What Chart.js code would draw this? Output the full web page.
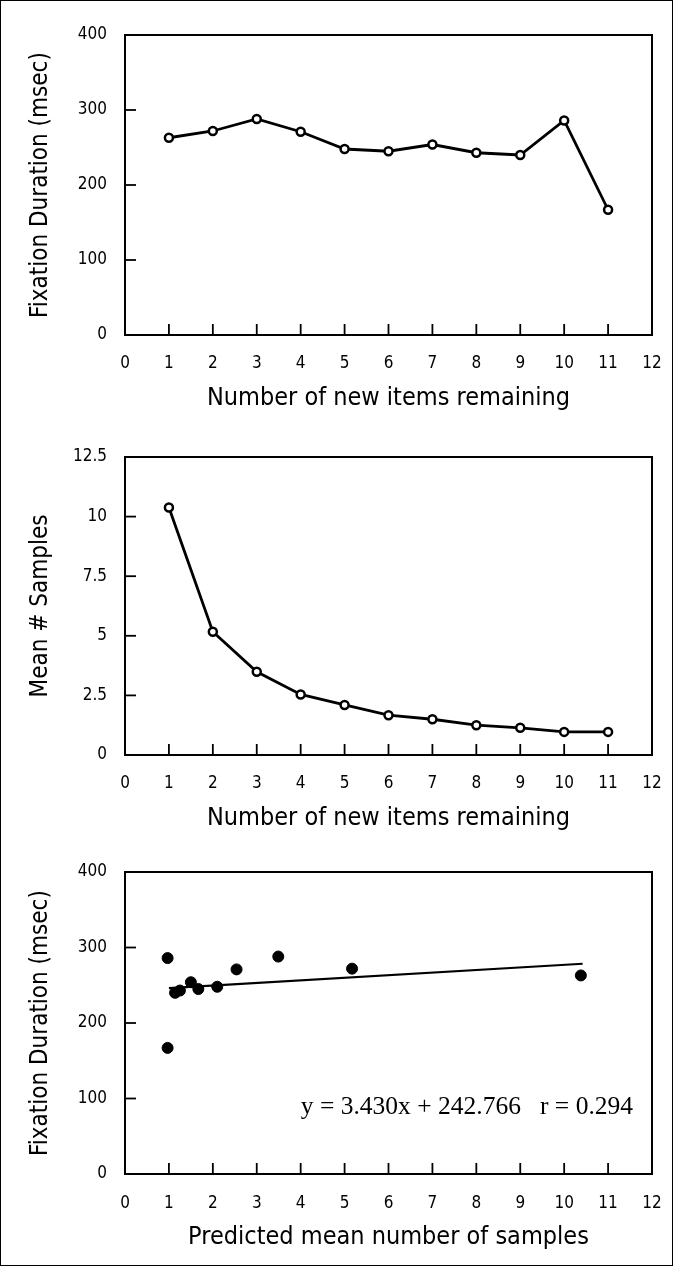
<!DOCTYPE html>
<html>
<head>
<meta charset="utf-8">
<script src="https://cdn.jsdelivr.net/npm/chart.js@4/dist/chart.umd.min.js"></script>
<style>
  html, body { margin: 0; padding: 0; background: #fff; }
  #page {
    position: relative;
    width: 673px;
    height: 1266px;
    box-sizing: border-box;
    border: 1px solid #000;
    overflow: hidden;
  }
  .panel { position: absolute; left: -1px; width: 673px; }
  #p1 { top: -1px; height: 420px; }
  #p2 { top: 419px; height: 420px; }
  #p3 { top: 839px; height: 427px; }
</style>
</head>
<body>
<div id="page">
  <div class="panel" id="p1"><canvas id="durationChart"></canvas></div>
  <div class="panel" id="p2"><canvas id="samplesChart"></canvas></div>
  <div class="panel" id="p3"><canvas id="scatterChart"></canvas></div>
</div>
<script>
// number of new items remaining (x of the first two panels)
const itemsRemaining = [1, 2, 3, 4, 5, 6, 7, 8, 9, 10, 11];
// fixation duration in msec for each item count
const fixationDuration = [263, 272, 288, 271, 248, 245, 254, 243, 240, 286, 167];
// predicted mean number of samples for each item count
const meanSamples = [10.38, 5.17, 3.49, 2.54, 2.1, 1.67, 1.5, 1.25, 1.14, 0.97, 0.97];

const xTicks = [0, 1, 2, 3, 4, 5, 6, 7, 8, 9, 10, 11, 12];
const durationTicks = [0, 100, 200, 300, 400];
const samplesTicks = [0, 2.5, 5, 7.5, 10, 12.5];

// regression reported on the third panel
const fitSlope = 3.430;
const fitIntercept = 242.766;
const fitRange = [1.0, 10.42];
const fitLabel = 'y = 3.430x + 242.766   r = 0.294';

const sansFont = "'DejaVu Sans Condensed', 'Liberation Sans Narrow', 'DejaVu Sans', sans-serif";
Chart.defaults.font.family = sansFont;
Chart.defaults.color = '#000';
Chart.defaults.animation = false;

// box frame + inward tick marks + optional note
const framePlugin = {
    id: 'frame',
    afterDatasetsDraw(chart) {
        const { ctx, chartArea: a, scales } = chart;
        ctx.save();
        ctx.strokeStyle = '#000';
        ctx.lineWidth = 2;
        ctx.strokeRect(a.left, a.top, a.right - a.left, a.bottom - a.top);
        ctx.lineWidth = 1.8;
        const tickLen = 11;
        scales.x.ticks.forEach(t => {
            if (t.value <= scales.x.min || t.value >= scales.x.max) return;
            const px = scales.x.getPixelForValue(t.value);
            ctx.beginPath();
            ctx.moveTo(px, a.bottom);
            ctx.lineTo(px, a.bottom - tickLen);
            ctx.stroke();
        });
        scales.y.ticks.forEach(t => {
            if (t.value <= scales.y.min || t.value >= scales.y.max) return;
            const py = scales.y.getPixelForValue(t.value);
            ctx.beginPath();
            ctx.moveTo(a.left, py);
            ctx.lineTo(a.left + tickLen, py);
            ctx.stroke();
        });
        const note = chart.options.plugins.frame && chart.options.plugins.frame.note;
        if (note) {
            ctx.font = "25.5px 'Liberation Serif', serif";
            ctx.fillStyle = '#000';
            ctx.textAlign = 'right';
            ctx.textBaseline = 'middle';
            ctx.fillText(note.text, a.right - 19, scales.y.getPixelForValue(note.y));
        }
        ctx.restore();
    }
};

function axisX(title, height, gap) {
    return {
        type: 'linear',
        min: 0,
        max: 12,
        afterBuildTicks: s => { s.ticks = xTicks.map(v => ({ value: v })); },
        grid: { display: false, drawTicks: true, tickLength: gap },
        border: { display: false },
        ticks: { padding: 0, font: { size: 17 }, maxRotation: 0, autoSkip: false },
        title: { display: true, text: title, font: { size: 25 }, padding: { top: 0, bottom: height - 78 } },
        afterFit: s => { s.height = height; }
    };
}

function axisY(title, tickList) {
    return {
        type: 'linear',
        min: tickList[0],
        max: tickList[tickList.length - 1],
        afterBuildTicks: s => { s.ticks = tickList.map(v => ({ value: v })); },
        grid: { display: false, drawTicks: false },
        border: { display: false },
        ticks: { padding: 18, font: { size: 17 }, autoSkip: false, callback: v => String(v) },
        title: { display: true, text: title, font: { size: 24 }, padding: { top: 26, bottom: 0 } },
        afterFit: s => { s.width = 125; }
    };
}

const commonPlugins = { legend: { display: false }, tooltip: { enabled: false } };

new Chart(document.getElementById('durationChart'), {
    type: 'line',
    data: {
        datasets: [{
            data: itemsRemaining.map((x, i) => ({ x: x, y: fixationDuration[i] })),
            borderColor: '#000',
            borderWidth: 2.8,
            pointRadius: 4,
            pointBorderWidth: 2.5,
            pointBackgroundColor: '#fff',
            pointBorderColor: '#000',
            tension: 0
        }]
    },
    options: {
        responsive: true,
        maintainAspectRatio: false,
        layout: { padding: { top: 35, right: 21, left: 0, bottom: 0 } },
        scales: {
            x: axisX('Number of new items remaining', 85, 18),
            y: axisY('Fixation Duration (msec)', durationTicks)
        },
        plugins: commonPlugins
    },
    plugins: [framePlugin]
});

new Chart(document.getElementById('samplesChart'), {
    type: 'line',
    data: {
        datasets: [{
            data: itemsRemaining.map((x, i) => ({ x: x, y: meanSamples[i] })),
            borderColor: '#000',
            borderWidth: 2.8,
            pointRadius: 4,
            pointBorderWidth: 2.5,
            pointBackgroundColor: '#fff',
            pointBorderColor: '#000',
            tension: 0
        }]
    },
    options: {
        responsive: true,
        maintainAspectRatio: false,
        layout: { padding: { top: 37, right: 21, left: 0, bottom: 0 } },
        scales: {
            x: axisX('Number of new items remaining', 85, 18),
            y: axisY('Mean # Samples', samplesTicks)
        },
        plugins: commonPlugins
    },
    plugins: [framePlugin]
});

new Chart(document.getElementById('scatterChart'), {
    type: 'scatter',
    data: {
        datasets: [{
            data: meanSamples.map((x, i) => ({ x: x, y: fixationDuration[i] })),
            pointRadius: 5.5,
            pointBackgroundColor: '#000',
            pointBorderColor: '#000',
            showLine: false
        }, {
            type: 'line',
            data: fitRange.map(x => ({ x: x, y: fitSlope * x + fitIntercept })),
            borderColor: '#000',
            borderWidth: 2.2,
            pointRadius: 0
        }]
    },
    options: {
        responsive: true,
        maintainAspectRatio: false,
        layout: { padding: { top: 32, right: 21, left: 0, bottom: 0 } },
        scales: {
            x: axisX('Predicted mean number of samples', 93, 19),
            y: axisY('Fixation Duration (msec)', durationTicks)
        },
        plugins: Object.assign({ frame: { note: { text: fitLabel, y: 88 } } }, commonPlugins)
    },
    plugins: [framePlugin]
});
</script>
</body>
</html>
